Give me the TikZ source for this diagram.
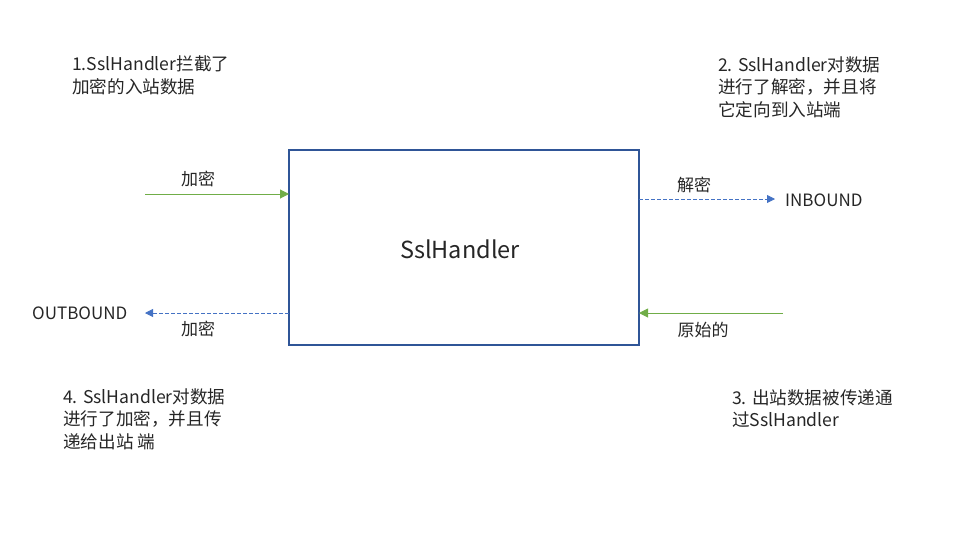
\documentclass[tikz,border=0pt]{standalone}
\usepackage{fontspec}
\setmainfont{Noto Sans CJK SC}
\usetikzlibrary{arrows.meta}
\definecolor{boxblue}{HTML}{2F5597}
\definecolor{arrblue}{HTML}{4472C4}
\definecolor{arrgreen}{HTML}{70AD47}
\definecolor{txt}{HTML}{262626}
\begin{document}
\begin{tikzpicture}[x=1pt,y=-1pt,
  txtstyle/.style={font=\fontsize{17}{22.5}\selectfont, text=txt, inner sep=0pt},
  note/.style={txtstyle, font=\fontsize{17.6}{22.8}\selectfont, align=left, anchor=north west},
  greenarrow/.style={draw=arrgreen, line width=1pt, -{Triangle[length=9pt,width=9pt]}},
  bluearrow/.style={draw=arrblue, line width=0.8pt, dashed, dash pattern=on 4pt off 2pt, -{Triangle[length=8pt,width=8pt]}}
]
\useasboundingbox (0,0) rectangle (971,533);
\node[draw=boxblue, line width=1.8pt, minimum width=350pt, minimum height=195pt, inner sep=0pt] (ssl) at (464,247.5) {};
\node[txtstyle, font=\fontsize{23.5}{26}\selectfont] (title) at (460,249) {SslHandler};

\coordinate (gin) at (145,194);
\coordinate (gin2) at (289,194);
\draw[greenarrow] (gin) -- (gin2);
\node[txtstyle] (l1) at (198,179) {加密};

\coordinate (bo1) at (639,199);
\coordinate (bo2) at (775,199);
\draw[bluearrow] (bo1) -- (bo2);
\node[txtstyle] (l2) at (694,185) {解密};
\node[txtstyle, anchor=west] (inb) at (785,200) {INBOUND};

\coordinate (bl1) at (289,313);
\coordinate (bl2) at (145,313);
\draw[bluearrow] (bl1) -- (bl2);
\node[txtstyle] (l3) at (198,329) {加密};
\node[txtstyle, anchor=west] (outb) at (32,313) {OUTBOUND};

\coordinate (gr1) at (783,313);
\coordinate (gr2) at (639,313);
\draw[greenarrow] (gr1) -- (gr2);
\node[txtstyle] (l4) at (703,330) {原始的};

\node[note] (n1) at (72,56) {1.SslHandler拦截了\\加密的入站数据};
\node[note] (n2) at (718,56) {2. SslHandler对数据\\进行了解密，并且将\\它定向到入站端};
\node[note] (n4) at (63,388) {4. SslHandler对数据\\进行了加密，并且传\\递给出站 端};
\node[note] (n3) at (732,389) {3. 出站数据被传递通\\过SslHandler};
\end{tikzpicture}
\end{document}
